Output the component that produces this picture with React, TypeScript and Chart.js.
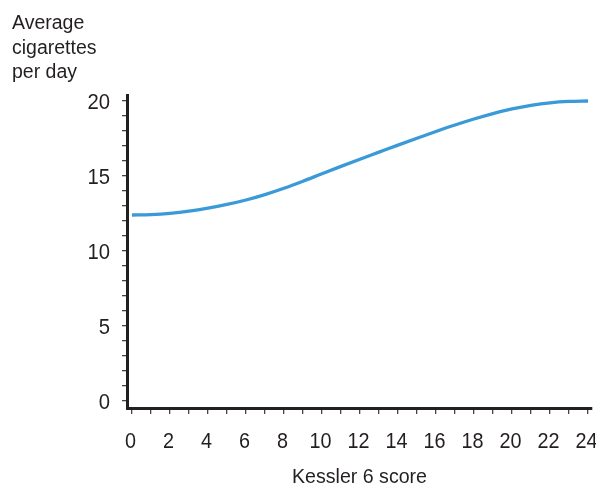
import React, { useEffect, useRef } from "react";
import { Chart, registerables } from "chart.js";

Chart.register(...registerables);

const kesslerScores = [0, 1, 2, 3, 4, 5, 6, 7, 8, 9, 10, 11, 12, 13, 14, 15, 16, 17, 18, 19, 20, 21, 22, 23, 24];
const avgCigarettes = [
  12.4, 12.43, 12.51, 12.65, 12.85, 13.1, 13.4, 13.76, 14.18, 14.65, 15.15, 15.64, 16.12,
  16.59, 17.06, 17.52, 17.97, 18.4, 18.8, 19.16, 19.47, 19.71, 19.88, 19.97, 20.0,
];
const xTickValues = [0, 1, 2, 3, 4, 5, 6, 7, 8, 9, 10, 11, 12, 13, 14, 15, 16, 17, 18, 19, 20, 21, 22, 23, 24];
const xLabelValues = [0, 2, 4, 6, 8, 10, 12, 14, 16, 18, 20, 22, 24];
const yTickValues = [0, 1, 2, 3, 4, 5, 6, 7, 8, 9, 10, 11, 12, 13, 14, 15, 16, 17, 18, 19, 20];
const yLabelValues = [0, 5, 10, 15, 20];
const yTitleLines = ["Average", "cigarettes", "per day"];
const xTitle = "Kessler 6 score";

const FONT = '"Liberation Sans", Arial, sans-serif';
const TEXT = "#231f20";

export default function App() {
  const ref = useRef<HTMLCanvasElement | null>(null);

  useEffect(() => {
    if (!ref.current) return;
    const textPlugin = {
      id: "texts",
      afterDraw(chart: any) {
        const ctx = chart.ctx;
        ctx.save();
        ctx.fillStyle = TEXT;
        // y title (horizontal, top-left)
        ctx.font = `19.5px ${FONT}`;
        ctx.textAlign = "left";
        ctx.textBaseline = "alphabetic";
        const ys = [29, 53.5, 78];
        yTitleLines.forEach((t, i) => ctx.fillText(t, 12, ys[i]));
        // slightly condensed tick labels
        const xs = chart.scales.x;
        const yS = chart.scales.y;
        ctx.font = `22px ${FONT}`;
        ctx.textAlign = "center";
        xLabelValues.forEach((v) => {
          const t = String(v);
          const w = ctx.measureText(t).width * 0.9;
          ctx.fillText(t, xs.getPixelForValue(v) - 1.5, 448, w);
        });
        ctx.font = `22.5px ${FONT}`;
        ctx.textAlign = "right";
        yLabelValues.forEach((v) => {
          const t = String(v);
          const w = ctx.measureText(t).width * 0.9;
          ctx.fillText(t, 110, yS.getPixelForValue(v) + 8, w);
        });
        ctx.restore();
      },
    };
    const chart = new Chart(ref.current, {
      type: "line",
      data: {
        datasets: [
          {
            data: kesslerScores.map((x, i) => ({ x, y: avgCigarettes[i] })),
            borderColor: "#3a9ad8",
            borderWidth: 3.3,
            pointRadius: 0,
            cubicInterpolationMode: "monotone",
            fill: false,
          },
        ],
      },
      options: {
        animation: false,
        responsive: true,
        maintainAspectRatio: false,
        layout: { padding: { top: 95, right: 4, left: 0, bottom: 0 } },
        plugins: { legend: { display: false }, tooltip: { enabled: false }, title: { display: false } },
        scales: {
          x: {
            type: "linear",
            min: -0.26,
            max: 24.21,
            afterBuildTicks: (axis: any) => {
              axis.ticks = xTickValues.map((v) => ({ value: v }));
            },
            afterFit: (scale: any) => {
              scale.height = 79;
              scale.paddingLeft = 0;
              scale.paddingRight = 0;
            },
            grid: {
              display: true,
              drawOnChartArea: false,
              drawTicks: true,
              tickLength: 6,
              color: "#444",
              lineWidth: 1.3,
            },
            border: { display: true, color: "#231f20", width: 3 },
            ticks: {
              autoSkip: false,
              maxRotation: 0,
              padding: 13,
              color: TEXT,
              font: { family: FONT, size: 19 },
              callback: () => "",
            },
            title: {
              display: true,
              text: xTitle,
              color: TEXT,
              font: { family: FONT, size: 19.6, lineHeight: 1 },
              padding: { top: 0, bottom: 0 },
            },
          },
          y: {
            type: "linear",
            min: -0.47,
            max: 20.4,
            afterBuildTicks: (axis: any) => {
              axis.ticks = yTickValues.map((v) => ({ value: v }));
            },
            afterFit: (scale: any) => {
              scale.width = 127;
              scale.paddingTop = 0;
              scale.paddingBottom = 0;
            },
            grid: {
              display: true,
              drawOnChartArea: false,
              drawTicks: true,
              tickLength: 5,
              color: "#444",
              lineWidth: 1.3,
            },
            border: { display: true, color: "#231f20", width: 3 },
            ticks: {
              autoSkip: false,
              padding: 12,
              color: TEXT,
              font: { family: FONT, size: 19 },
              callback: () => "",
            },
          },
        },
      },
      plugins: [textPlugin],
    } as any);
    return () => chart.destroy();
  }, []);

  return (
    <div style={{ position: "fixed", left: 0, top: 0, width: 596, height: 487, background: "#fff" }}>
      <canvas ref={ref} />
    </div>
  );
}
